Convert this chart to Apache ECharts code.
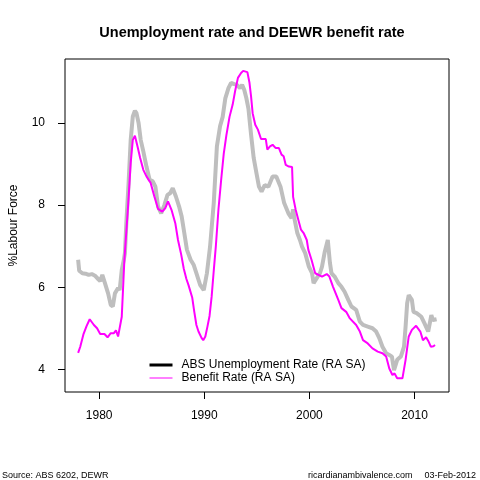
<!DOCTYPE html>
<html lang="en">

<head>
    <meta charset="UTF-8">
    <title>Unemployment rate and DEEWR benefit rate</title>
    <script src="https://cdn.jsdelivr.net/npm/echarts@6.0.0/dist/echarts.min.js"></script>
    <style>
        html, body { margin: 0; padding: 0; background: #fff; }
        #chart { width: 480px; height: 480px; }
    </style>
</head>

<body>
    <div id="chart"></div>

    <script>
        // grey thick line
        const absYears = [
            1978.0, 1978.1, 1978.4, 1978.7, 1979.0, 1979.3, 1979.6, 1979.9, 1980.1, 1980.3,
            1980.55, 1980.85, 1981.1, 1981.3, 1981.5, 1981.8, 1981.95, 1982.15, 1982.35, 1982.45,
            1982.6, 1982.8, 1983.0, 1983.2, 1983.4, 1983.55, 1983.75, 1983.95, 1984.2, 1984.5,
            1984.8, 1985.1, 1985.35, 1985.6, 1985.9, 1986.2, 1986.5, 1986.75, 1987.0, 1987.3,
            1987.6, 1987.85, 1988.05, 1988.35, 1988.7, 1989.0, 1989.3, 1989.6, 1989.95, 1990.25,
            1990.55, 1990.9, 1991.2, 1991.5, 1991.75, 1992.0, 1992.3, 1992.55, 1992.85, 1993.1,
            1993.4, 1993.6, 1993.8, 1994.0, 1994.2, 1994.45, 1994.7, 1994.95, 1995.2, 1995.45,
            1995.75, 1996.1, 1996.5, 1996.85, 1997.25, 1997.6, 1998.0, 1998.3, 1998.45, 1998.6,
            1998.85, 1999.1, 1999.3, 1999.6, 1999.95, 2000.25, 2000.4, 2000.7, 2001.0, 2001.2,
            2001.45, 2001.75, 2001.95, 2002.1, 2002.4, 2002.75, 2003.05, 2003.35, 2003.7, 2004.0,
            2004.45, 2004.8, 2005.1, 2005.55, 2006.0, 2006.35, 2006.65, 2006.95, 2007.3, 2007.6,
            2007.85, 2008.05, 2008.35, 2008.7, 2009.0, 2009.15, 2009.3, 2009.45, 2009.75, 2009.9,
            2010.2, 2010.65, 2010.95, 2011.3, 2011.6, 2011.75, 2012.1
        ];
        const absRate = [
            6.67, 6.40, 6.34, 6.33, 6.30, 6.32, 6.28, 6.20, 6.15, 6.30,
            6.10, 5.85, 5.57, 5.53, 5.85, 5.98, 5.93, 6.42, 6.67, 6.83,
            7.64, 8.54, 9.59, 10.16, 10.30, 10.24, 10.00, 9.59, 9.31, 8.94,
            8.62, 8.58, 8.45, 7.97, 7.80, 8.00, 8.25, 8.29, 8.41, 8.21,
            7.97, 7.72, 7.40, 6.91, 6.67, 6.54, 6.30, 6.06, 5.93, 6.34,
            6.99, 8.05, 9.43, 9.92, 10.15, 10.60, 10.85, 10.98, 10.95, 10.93,
            10.85, 10.93, 10.81, 10.61, 10.35, 9.72, 9.15, 8.80, 8.45, 8.33,
            8.49, 8.45, 8.70, 8.70, 8.45, 8.05, 7.80, 7.68, 7.90, 7.64,
            7.32, 7.15, 6.99, 6.83, 6.50, 6.34, 6.10, 6.22, 6.34, 6.50,
            6.85, 7.15, 6.60, 6.34, 6.26, 6.10, 6.01, 5.89, 5.69, 5.53,
            5.45, 5.16, 5.08, 5.04, 5.00, 4.92, 4.76, 4.55, 4.39, 4.35,
            4.31, 3.98, 4.23, 4.31, 4.55, 5.04, 5.61, 5.81, 5.69, 5.40,
            5.37, 5.28, 5.12, 4.92, 5.32, 5.20, 5.22
        ];

        // magenta thin line
        const benefitYears = [
            1978.0, 1978.2, 1978.5, 1978.8, 1979.1, 1979.25, 1979.5, 1979.8, 1980.1, 1980.5,
            1980.8, 1981.1, 1981.4, 1981.6, 1981.8, 1981.95, 1982.15, 1982.4, 1982.75, 1983.0,
            1983.2, 1983.4, 1983.65, 1983.9, 1984.2, 1984.5, 1984.9, 1985.25, 1985.6, 1986.0,
            1986.3, 1986.55, 1986.9, 1987.25, 1987.5, 1987.8, 1988.05, 1988.3, 1988.5, 1988.85,
            1989.05, 1989.25, 1989.45, 1989.75, 1989.9, 1990.1, 1990.3, 1990.5, 1990.7, 1990.9,
            1991.1, 1991.35, 1991.6, 1991.85, 1992.1, 1992.4, 1992.7, 1992.95, 1993.2, 1993.5,
            1993.7, 1994.1, 1994.3, 1994.45, 1994.6, 1994.85, 1995.1, 1995.4, 1995.85, 1996.0,
            1996.25, 1996.5, 1996.8, 1997.1, 1997.35, 1997.55, 1997.75, 1998.05, 1998.35, 1998.45,
            1998.7, 1998.95, 1999.2, 1999.45, 1999.75, 1999.9, 2000.2, 2000.55, 2001.2, 2001.65,
            2001.9, 2002.25, 2002.75, 2003.05, 2003.5, 2003.85, 2004.45, 2004.8, 2005.1, 2005.55,
            2006.0, 2006.5, 2006.95, 2007.3, 2007.6, 2007.9, 2008.1, 2008.35, 2008.85, 2009.15,
            2009.45, 2009.75, 2010.15, 2010.55, 2010.8, 2011.1, 2011.35, 2011.55, 2011.8, 2011.95
        ];
        const benefitRate = [
            4.40, 4.55, 4.85, 5.05, 5.22, 5.26, 5.08, 5.00, 4.86, 4.86,
            4.78, 4.88, 4.88, 4.95, 4.80, 4.77, 5.28, 6.67, 7.97, 9.03,
            9.59, 9.69, 9.43, 9.15, 8.86, 8.70, 8.54, 8.21, 7.91, 7.84,
            7.93, 8.09, 7.87, 7.55, 7.15, 6.80, 6.45, 6.20, 6.05, 5.75,
            5.40, 5.08, 4.92, 4.76, 4.71, 4.80, 5.04, 5.30, 5.77, 6.40,
            7.00, 7.90, 8.60, 9.25, 9.70, 10.15, 10.45, 10.80, 11.10, 11.22,
            11.27, 11.24, 10.98, 10.65, 10.24, 9.96, 9.84, 9.61, 9.61, 9.35,
            9.43, 9.47, 9.39, 9.39, 9.23, 9.19, 8.98, 8.94, 8.93, 8.20,
            7.88, 7.64, 7.40, 7.32, 7.15, 6.91, 6.67, 6.34, 6.26, 6.32,
            6.26, 6.01, 5.69, 5.49, 5.40, 5.24, 5.08, 4.92, 4.71, 4.63,
            4.51, 4.43, 4.39, 4.31, 4.02, 3.86, 3.90, 3.78, 3.78, 4.23,
            4.80, 4.96, 5.06, 4.92, 4.71, 4.78, 4.67, 4.55, 4.56, 4.59
        ];

        const xTicks = [1980, 1990, 2000, 2010];
        const yTicks = [4, 6, 8, 10];

        function pairs(xs, ys) {
            return xs.map((x, i) => [x, ys[i]]);
        }

        const chart = echarts.init(document.getElementById('chart'), null, { renderer: 'canvas' });
        const font = 'Liberation Sans, Arial, sans-serif';

        chart.setOption({
            animation: false,
            textStyle: { fontFamily: font, color: '#000' },
            title: [
                {
                    text: 'Unemployment rate and DEEWR benefit rate',
                    left: 252, top: 25, textAlign: 'center', padding: 0,
                    textStyle: { fontSize: 14.5, fontWeight: 'bold', color: '#000', fontFamily: font }
                },
                {
                    text: 'Source: ABS 6202, DEWR',
                    left: 2, top: 471, padding: 0,
                    textStyle: { fontSize: 9, fontWeight: 'normal', color: '#000', fontFamily: font }
                },
                {
                    text: 'ricardianambivalence.com',
                    left: 308, top: 471, padding: 0,
                    textStyle: { fontSize: 9, fontWeight: 'normal', color: '#000', fontFamily: font }
                },
                {
                    text: '03-Feb-2012',
                    right: 4, top: 471, padding: 0,
                    textStyle: { fontSize: 9, fontWeight: 'normal', color: '#000', fontFamily: font }
                }
            ],
            grid: {
                left: 59, right: 31, top: 59, bottom: 88,
                show: true, borderColor: '#000', borderWidth: 1
            },
            legend: {
                orient: 'vertical',
                left: 148, top: 359, padding: 0,
                itemWidth: 23, itemHeight: 12, itemGap: 1,
                textStyle: { fontSize: 12, color: '#000', fontFamily: font, padding: [0, 0, 0, 4] },
                data: [
                    { name: 'ABS Unemployment Rate (RA SA)', itemStyle: { color: '#000', opacity: 0, borderWidth: 0 }, lineStyle: { color: '#000', width: 3 } },
                    { name: 'Benefit Rate (RA SA)', itemStyle: { color: '#ff00ff', opacity: 0, borderWidth: 0 }, lineStyle: { color: '#ff00ff', width: 1 } }
                ]
            },
            xAxis: {
                type: 'value', min: 1976.75, max: 2013.28,
                splitLine: { show: false },
                axisLine: { show: false },
                axisTick: { show: true, inside: false, length: 7, customValues: xTicks, lineStyle: { color: '#000' } },
                axisLabel: {
                    customValues: xTicks, margin: 18, fontSize: 12, color: '#000', fontFamily: font,
                    formatter: v => String(v)
                }
            },
            yAxis: {
                type: 'value', min: 3.447, max: 11.56,
                name: '%Labour Force', nameLocation: 'middle', nameGap: 45,
                nameTextStyle: { fontSize: 12, color: '#000', fontFamily: font },
                splitLine: { show: false },
                axisLine: { show: false },
                axisTick: { show: true, inside: false, length: 7, customValues: yTicks, lineStyle: { color: '#000' } },
                axisLabel: { customValues: yTicks, margin: 20, fontSize: 12, color: '#000', fontFamily: font }
            },
            series: [
                {
                    name: 'ABS Unemployment Rate (RA SA)',
                    type: 'line', symbol: 'none', showSymbol: false,
                    data: pairs(absYears, absRate),
                    lineStyle: { color: '#bebebe', width: 4 },
                    itemStyle: { color: '#bebebe' },
                    z: 2
                },
                {
                    name: 'Benefit Rate (RA SA)',
                    type: 'line', symbol: 'none', showSymbol: false,
                    data: pairs(benefitYears, benefitRate),
                    lineStyle: { color: '#ff00ff', width: 2 },
                    itemStyle: { color: '#ff00ff' },
                    z: 3
                }
            ]
        });
    </script>
</body>

</html>
